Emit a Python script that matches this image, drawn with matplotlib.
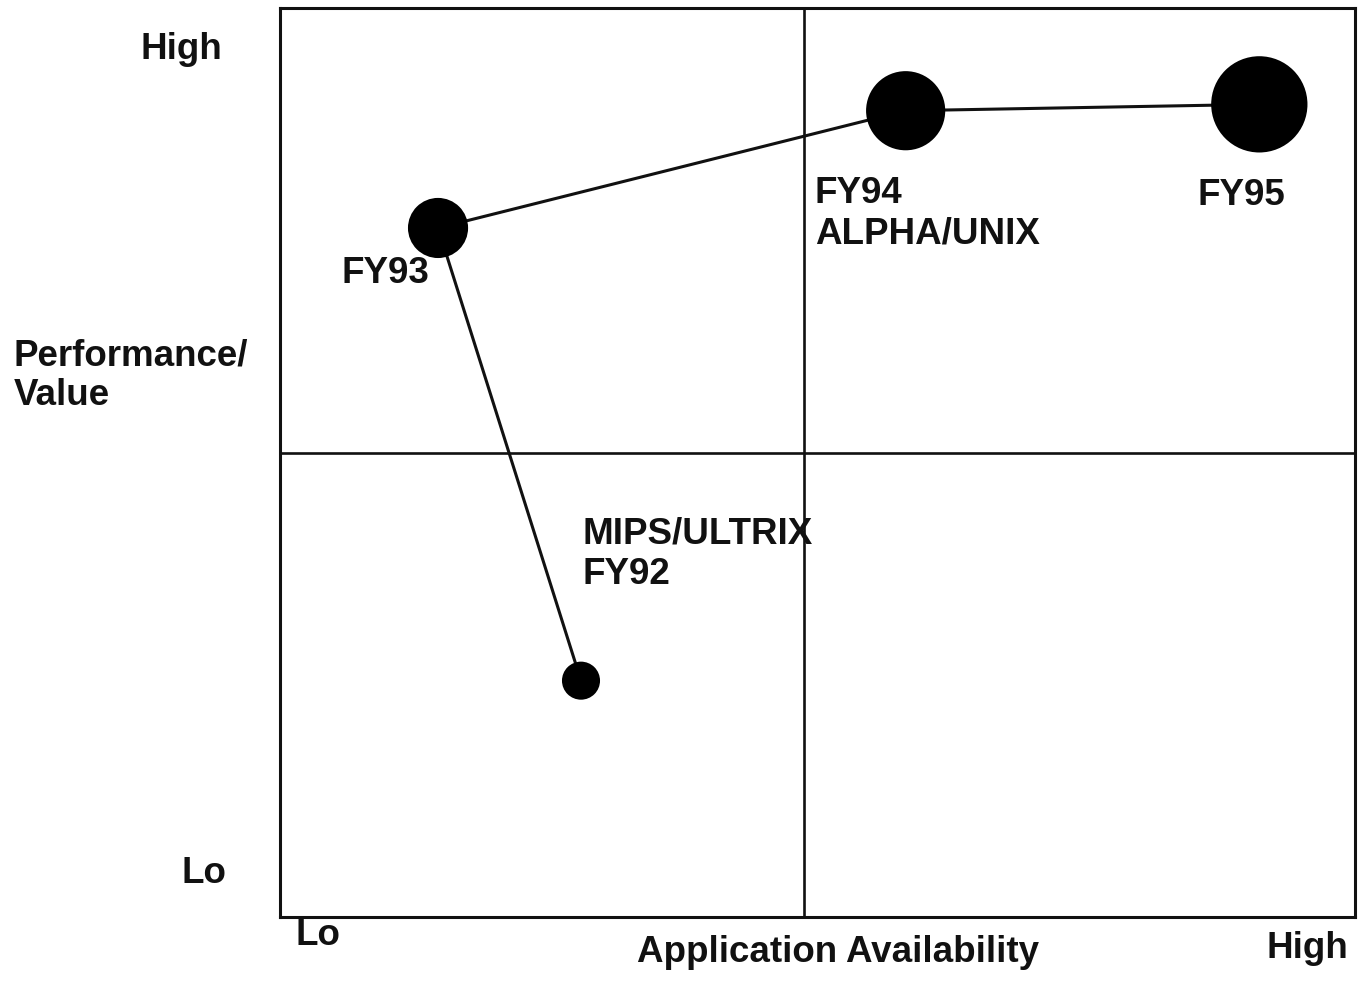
import matplotlib
matplotlib.use("Agg")
import matplotlib.pyplot as plt

plt.rcParams['font.family'] = ['Liberation Sans', 'DejaVu Sans']

# Platform roadmap: application availability vs. performance/value
years = ["FY92", "FY93", "FY94", "FY95"]
availability = [2.80, 1.47, 5.82, 9.11]
performance = [2.60, 7.58, 8.87, 8.94]
bubble_weight = [1.0, 1.58, 2.08, 2.53]
point_labels = [["MIPS/ULTRIX", "FY92"], ["FY93"], ["FY94", "ALPHA/UNIX"], ["FY95"]]

x_ticklabels = ["Lo", "High"]
y_ticklabels = ["Lo", "High"]
x_title = "Application Availability"
y_title = ["Performance/", "Value"]
x_split = 4.87
y_split = 5.10

W, H = 1363, 983
fig = plt.figure(figsize=(W / 100, H / 100), dpi=100)
ax = fig.add_axes([280 / W, 1 - 917 / H, 1075 / W, 909 / H])
ax.set_xlim(0, 10)
ax.set_ylim(0, 10)
ax.set_xticks([])
ax.set_yticks([])
for s in ax.spines.values():
    s.set_linewidth(2.2)
    s.set_color("#111111")

ink = "#111111"
FS = 26.5

# Quadrant dividers
ax.axvline(x_split, color=ink, lw=1.9, zorder=1)
ax.axhline(y_split, color=ink, lw=1.9, zorder=1)

# Path through the years
ax.plot(availability, performance, color=ink, lw=2.2, zorder=2, solid_capstyle="butt")

# Bubbles
base_d = 27.4  # points
sizes = [(base_d * w) ** 2 for w in bubble_weight]
ax.scatter(availability, performance, s=sizes, color="black", zorder=3, linewidths=0)

# Point labels, stacked lines with baseline offsets (points)
label_offsets = [
    (1.4, [98.6, 69.8]),
    (-69.8, [-39.6]),
    (-65.5, [-66.2, -95.8]),
    (-44.6, [-72.7]),
]
for (x, y), lines, (dx, dys) in zip(zip(availability, performance), point_labels, label_offsets):
    for text, dy in zip(lines, dys):
        ax.annotate(text, (x, y), xytext=(dx, dy), textcoords="offset points",
                    ha="left", va="baseline", fontsize=FS, fontweight="bold",
                    color=ink, zorder=4)


def ftext(px, py, s, ha="left"):
    fig.text(px / W, 1 - py / H, s, ha=ha, va="baseline",
             fontsize=FS, fontweight="bold", color=ink)


# Axis end labels
ftext(222, 59, y_ticklabels[1], ha="right")
ftext(226, 883, y_ticklabels[0], ha="right")
ftext(295, 945, x_ticklabels[0])
ftext(1348, 958, x_ticklabels[1], ha="right")

# Axis titles
ftext(637, 962, x_title)
ftext(14, 366, y_title[0])
ftext(14, 405, y_title[1])

fig.savefig("out.png", dpi=100, facecolor="white")
